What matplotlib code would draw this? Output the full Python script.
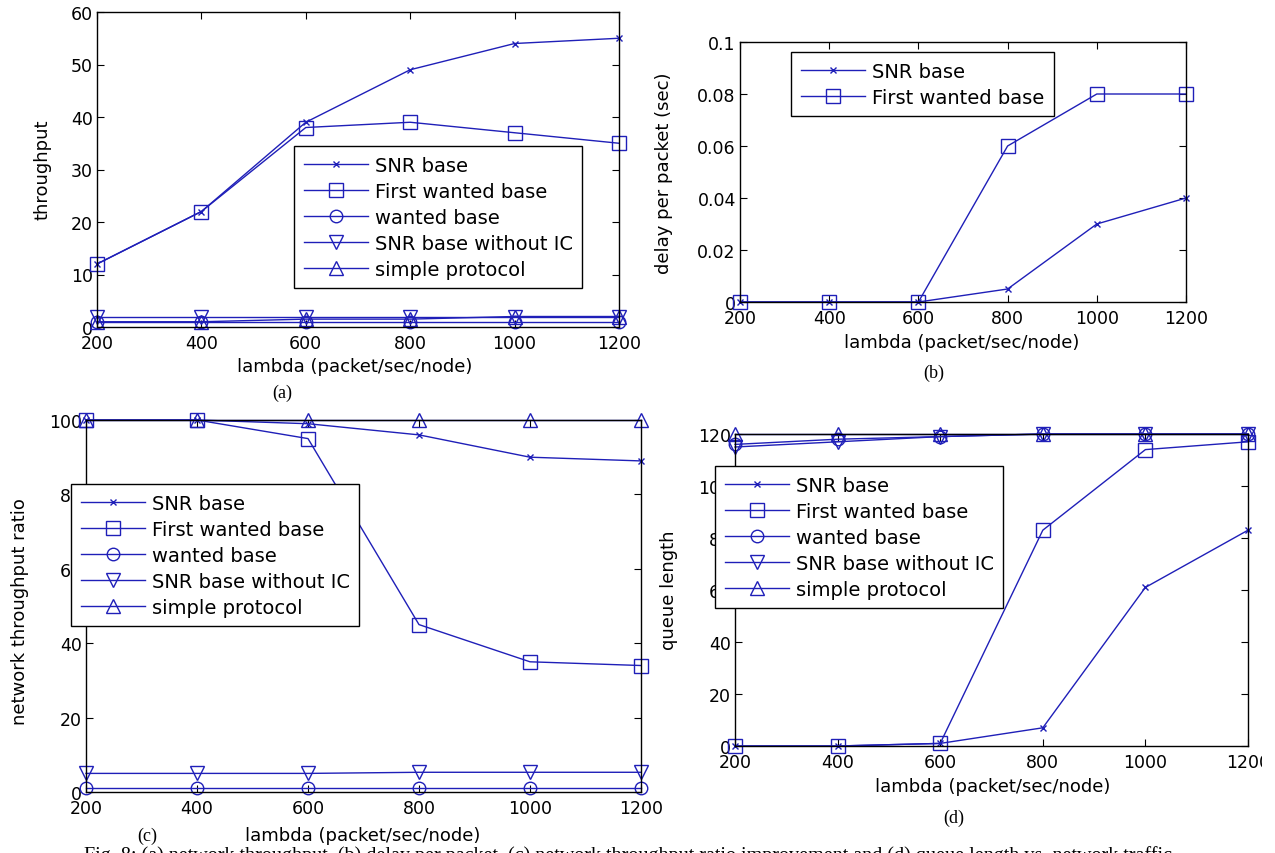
import matplotlib
matplotlib.use('Agg')
import matplotlib.pyplot as plt
from matplotlib.transforms import Bbox, TransformedBbox

W, H = 1275, 854

lam = [200, 400, 600, 800, 1000, 1200]
labels5 = ['SNR base', 'First wanted base', 'wanted base', 'SNR base without IC', 'simple protocol']

# (a) throughput
thr_snr = [12, 22, 39, 49, 54, 55]
thr_first = [12, 22, 38, 39, 37, 35]
thr_wanted = [1, 1, 1, 1, 1, 1]
thr_snr_noic = [2, 2, 2, 2, 2, 2]
thr_simple = [1, 1, 1.5, 1.5, 2, 2]

# (b) delay per packet (sec)
delay_snr = [0, 0, 0, 0.005, 0.03, 0.04]
delay_first = [0, 0, 0, 0.06, 0.08, 0.08]

# (c) network throughput ratio
ratio_snr = [100, 100, 99, 96, 90, 89]
ratio_first = [100, 100, 95, 45, 35, 34]
ratio_wanted = [1, 1, 1, 1, 1, 1]
ratio_snr_noic = [5, 5, 5, 5.3, 5.3, 5.3]
ratio_simple = [100, 100, 100, 100, 100, 100]

# (d) queue length
q_snr = [0, 0, 1, 7, 61, 83]
q_first = [0, 0, 1, 83, 114, 117]
q_wanted = [116, 118, 119, 120, 120, 120]
q_snr_noic = [115, 117, 119, 120, 120, 120]
q_simple = [120, 120, 120, 120, 120, 120]

caption = ("Fig. 8: (a) network throughput, (b) delay per packet, (c) network throughput ratio "
           "improvement and (d) queue length vs. network traffic")

BLUE = '#1f1fb8'
plt.rcParams['font.family'] = ['DejaVu Sans']
fig = plt.figure(figsize=(W / 100, H / 100), dpi=100)

def add_ax(l, r, t, b):
    return fig.add_axes([l / W, 1 - b / H, (r - l) / W, (b - t) / H])

def style(ax, ylim, yticks, ytl=None):
    ax.set_xlim(200, 1200)
    ax.set_ylim(*ylim)
    ax.set_xticks(lam)
    ax.set_xticklabels([str(v) for v in lam])
    ax.set_yticks(yticks)
    if ytl is not None:
        ax.set_yticklabels(ytl)
    ax.tick_params(direction='in', top=True, right=True, length=5, width=0.8,
                   labelsize=12.5, colors='black')
    ax.tick_params(axis='x', pad=5)
    ax.tick_params(axis='y', pad=3)
    for s in ax.spines.values():
        s.set_linewidth(1.0)
        s.set_color('black')

mk = [dict(marker='x', ms=5), dict(marker='s', ms=10), dict(marker='o', ms=9),
      dict(marker='v', ms=10), dict(marker='^', ms=10)]

def plot_series(ax, series, labs):
    for ys, m, lb in zip(series, mk, labs):
        ax.plot(lam, ys, color=BLUE, lw=1.0, mfc='none', mec=BLUE, mew=1.0,
                label=lb, clip_on=False, **m)

def legend(ax, x, y):
    lg = ax.legend(loc='upper left', bbox_to_anchor=(x / W, 1 - y / H),
                   bbox_transform=fig.transFigure, fontsize=14, handlelength=3.3,
                   handletextpad=0.35, borderpad=0.5, labelspacing=0.36,
                   frameon=True, fancybox=False, framealpha=1, borderaxespad=0,
                   edgecolor='black')
    lg.get_frame().set_linewidth(1.0)
    lg.set_zorder(10)
    return lg

def ftext(x, y, s, **kw):
    fig.text(x / W, 1 - y / H, s, ha='center', va='center', **kw)

# ---- (a)
axa = add_ax(97, 619, 13, 328)
plot_series(axa, [thr_snr, thr_first, thr_wanted, thr_snr_noic, thr_simple], labels5)
style(axa, (0, 60), [0, 10, 20, 30, 40, 50, 60])
legend(axa, 294, 147)
ftext(355, 367, 'lambda (packet/sec/node)', fontsize=13)
ftext(43, 170, 'throughput', fontsize=13, rotation=90)
ftext(282, 393, '(a)', fontsize=13, family='Liberation Serif')

# ---- (b)
axb = add_ax(740, 1186, 43, 303)
plot_series(axb, [delay_snr, delay_first], labels5[:2])
style(axb, (0, 0.1), [0, 0.02, 0.04, 0.06, 0.08, 0.1],
      ['0', '0.02', '0.04', '0.06', '0.08', '0.1'])
legend(axb, 791, 53)
ftext(962, 343, 'lambda (packet/sec/node)', fontsize=13)
ftext(664, 173, 'delay per packet (sec)', fontsize=13, rotation=90)
ftext(934, 373, '(b)', fontsize=13, family='Liberation Serif')

# ---- (c)
axc = add_ax(86, 641, 421, 793)
plot_series(axc, [ratio_snr, ratio_first, ratio_wanted, ratio_snr_noic, ratio_simple], labels5)
style(axc, (0, 100), [0, 20, 40, 60, 80, 100])
legend(axc, 71, 485)
ftext(363, 836, 'lambda (packet/sec/node)', fontsize=13)
ftext(20, 612, 'network throughput ratio', fontsize=13, rotation=90)
ftext(147, 836, '(c)', fontsize=13, family='Liberation Serif')

# ---- (d)
axd = add_ax(735, 1248, 435, 747)
plot_series(axd, [q_snr, q_first, q_wanted, q_snr_noic, q_simple], labels5)
style(axd, (0, 120), [0, 20, 40, 60, 80, 100, 120])
legend(axd, 715, 467)
ftext(993, 787, 'lambda (packet/sec/node)', fontsize=13)
ftext(669, 590, 'queue length', fontsize=13, rotation=90)
ftext(954, 818, '(d)', fontsize=13, family='Liberation Serif')

# caption (cut at the bottom edge, as in the source)
fig.text(628 / W, 1 - 856 / H, caption, ha='center', va='center', fontsize=14.5,
         family='Liberation Serif')

# crop the right-most tick label like the source image
fig.canvas.draw()
clipbox = TransformedBbox(Bbox([[0, 0], [1262 / W, 1]]), fig.transFigure)
for lbl in axd.get_xticklabels():
    lbl.set_clip_box(clipbox)
    lbl.set_clip_on(True)

fig.savefig('out.png', dpi=100)
